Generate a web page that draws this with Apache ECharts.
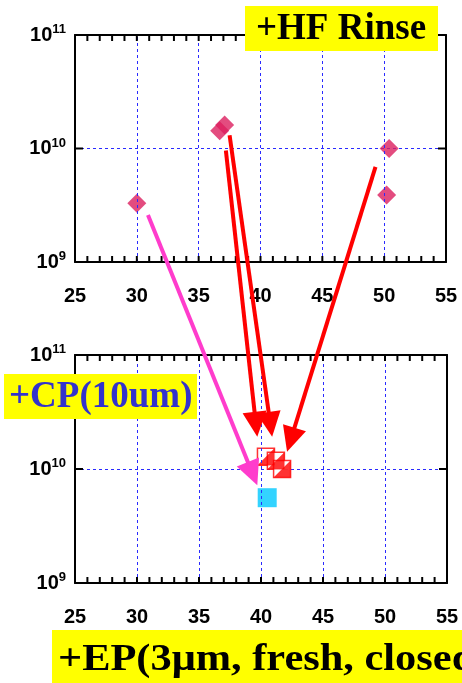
<!DOCTYPE html>
<html><head><meta charset="utf-8">
<script src="https://cdn.jsdelivr.net/npm/echarts@6/dist/echarts.min.js"></script>
<style>html,body{margin:0;padding:0;background:#fff}#c{width:462px;height:683px}</style>
</head><body><div id="c"></div>
<script>
// x axis range, labelled step and tick step
const xMin = 25, xMax = 55, xStep = 5, xTickStep = 1;
// vertical grid lines
const xGrid = [30, 35, 40, 45, 50];
// y axis (log) decades
const yMin = 1e9, yMax = 1e11;
const yMajor = [1e10];

// samples after HF rinse (upper panel)
const hfX = [30.0, 36.7, 37.1, 50.4, 50.2];
const hfY = [3.3e9, 1.43e10, 1.61e10, 1.0e10, 3.9e9];
// samples after EP (lower panel)
const epX = [40.4, 41.2, 41.7];
const epY = [1.28e10, 1.18e10, 1.0e10];
// sample after CP (lower panel)
const cpX = [40.5];
const cpY = [5.6e9];

// arrows: tail in upper panel, tip in lower panel
const arrowFromX = [30.9, 37.2, 37.5, 49.3];
const arrowFromY = [2.6e9, 9.6e9, 1.31e10, 6.9e9];
const arrowToX = [39.7, 39.7, 40.9, 42.1];
const arrowToY = [7.2e9, 1.92e10, 1.92e10, 1.42e10];
const arrowKind = ['cp', 'ep', 'ep', 'ep'];

const SANS = '"Liberation Sans", Arial, Helvetica, sans-serif';
const SERIF = '"Liberation Serif", "Times New Roman", serif';
const GRID_LINE = { color: '#2a2aff', type: [3, 3], width: 1 };

function xAxis(grid, pos) {
  const bottom = pos === 'bottom';
  return {
    type: 'value', gridIndex: grid, position: pos,
    min: xMin, max: xMax, interval: xStep,
    axisLine: { show: true, onZero: false, lineStyle: { color: '#000', width: 2 } },
    axisTick: { show: false },
    splitLine: { show: false },
    axisLabel: { show: bottom, margin: 24, fontFamily: SANS, fontWeight: 'bold', fontSize: 20, color: '#000' }
  };
}
function yAxis(grid, pos) {
  const left = pos === 'left';
  return {
    type: 'log', logBase: 10, gridIndex: grid, position: pos,
    min: yMin, max: yMax,
    axisLine: { show: true, onZero: false, lineStyle: { color: '#000', width: 2 } },
    axisTick: { show: false },
    splitLine: { show: left, lineStyle: GRID_LINE },
    axisLabel: {
      show: left, margin: 9, color: '#000',
      formatter: v => '{b|10}{s|' + Math.round(Math.log10(v)) + '}',
      rich: {
        b: { fontFamily: SANS, fontWeight: 'bold', fontSize: 20, color: '#000' },
        s: { fontFamily: SANS, fontWeight: 'bold', fontSize: 13, color: '#000', padding: [0, 0, 11, 0] }
      }
    }
  };
}
// dotted vertical grid lines drawn on the x scale of a panel
function gridLines(xi, yi) {
  return {
    type: 'scatter', xAxisIndex: xi, yAxisIndex: yi, data: [], silent: true, z: 1,
    markLine: {
      silent: true, symbol: 'none', animation: false,
      label: { show: false },
      lineStyle: GRID_LINE,
      data: xGrid.map(v => ({ xAxis: v }))
    }
  };
}

const zip = (a, b) => a.map((v, i) => [v, b[i]]);

const chart = echarts.init(document.getElementById('c'), null, { renderer: 'canvas' });
chart.setOption({
  backgroundColor: '#fff',
  animation: false,
  grid: [
    { left: 75, top: 35, width: 371, height: 227 },
    { left: 75, top: 355, width: 372, height: 228 }
  ],
  xAxis: [xAxis(0, 'bottom'), xAxis(0, 'top'), xAxis(1, 'bottom'), xAxis(1, 'top')],
  yAxis: [yAxis(0, 'left'), yAxis(0, 'right'), yAxis(1, 'left'), yAxis(1, 'right')],
  series: [
    gridLines(0, 0),
    gridLines(2, 2),
    {
      type: 'scatter', xAxisIndex: 0, yAxisIndex: 0, data: zip(hfX, hfY),
      symbol: 'diamond', symbolSize: [19, 19],
      itemStyle: { color: '#dc1f5f' }, z: 3
    },
    {
      type: 'scatter', xAxisIndex: 2, yAxisIndex: 2, data: zip(cpX, cpY),
      symbol: 'rect', symbolSize: 19,
      itemStyle: { color: '#00c8ff' }, z: 3
    },
    {
      type: 'scatter', xAxisIndex: 2, yAxisIndex: 2, data: zip(epX, epY),
      symbol: 'rect', symbolSize: 17,
      itemStyle: { color: '#fff', borderColor: '#ff0000', borderWidth: 1.5 }, z: 3
    },
    {
      type: 'scatter', xAxisIndex: 2, yAxisIndex: 2, data: zip(epX, epY),
      symbol: 'path://M10,0 L10,10 L0,10 Z', symbolSize: 17,
      itemStyle: { color: '#ff0000' }, z: 4
    }
  ]
});

// inward tick marks on all four sides of each panel
function buildTicks() {
  const els = [];
  const tick = (x1, y1, x2, y2) => els.push({
    type: 'line', z: 50,
    shape: { x1: x1, y1: y1, x2: x2, y2: y2 },
    style: { stroke: '#000', lineWidth: 2 }
  });
  for (const g of [0, 1]) {
    for (let v = xMin; v <= xMax; v += xTickStep) {
      const b = chart.convertToPixel({ gridIndex: g }, [v, yMin]);
      const t = chart.convertToPixel({ gridIndex: g }, [v, yMax]);
      const L = 6;
      tick(b[0], b[1], b[0], b[1] - L);
      tick(t[0], t[1], t[0], t[1] + L);
    }
    for (const v of yMajor) {
      const l = chart.convertToPixel({ gridIndex: g }, [xMin, v]);
      const r = chart.convertToPixel({ gridIndex: g }, [xMax, v]);
      const L = 8;
      tick(l[0], l[1], l[0] + L, l[1]);
      tick(r[0], r[1], r[0] - L, r[1]);
    }
  }
  return els;
}

// arrows from the upper panel down to the lower panel
function buildArrows() {
  const els = [];
  const colors = { cp: '#ff3ccc', ep: '#ff0000' };
  for (let i = 0; i < arrowFromX.length; i++) {
    const s = chart.convertToPixel({ gridIndex: 0 }, [arrowFromX[i], arrowFromY[i]]);
    const t = chart.convertToPixel({ gridIndex: 1 }, [arrowToX[i], arrowToY[i]]);
    const dx = t[0] - s[0], dy = t[1] - s[1];
    const len = Math.hypot(dx, dy);
    const ux = dx / len, uy = dy / len;
    const L = 25, W = 12;
    const bx = t[0] - ux * L, by = t[1] - uy * L;
    const nx = -uy, ny = ux;
    const c = colors[arrowKind[i]];
    els.push({
      type: 'line', z: 100,
      shape: { x1: s[0], y1: s[1], x2: bx + ux * 2, y2: by + uy * 2 },
      style: { stroke: c, lineWidth: 4 }
    });
    els.push({
      type: 'polygon', z: 100,
      shape: { points: [[t[0], t[1]], [bx + nx * W, by + ny * W], [bx - nx * W, by - ny * W]] },
      style: { fill: c }
    });
  }
  return els;
}

const labels = [
  { type: 'rect', z: 110, shape: { x: 245, y: 6, width: 193, height: 45 }, style: { fill: '#ffff00' } },
  { type: 'text', z: 111, x: 256, y: 29, style: { text: '+HF Rinse', fill: '#000', font: 'bold 37px ' + SERIF, textVerticalAlign: 'middle' } },
  { type: 'rect', z: 110, shape: { x: 4, y: 374, width: 193, height: 45 }, style: { fill: '#ffff00' } },
  { type: 'text', z: 111, x: 9, y: 397, style: { text: '+CP(10um)', fill: '#3333cc', font: 'bold 37px ' + SERIF, textVerticalAlign: 'middle' } },
  { type: 'rect', z: 110, shape: { x: 52, y: 630, width: 420, height: 54 }, style: { fill: '#ffff00' } },
  { type: 'text', z: 111, x: 58, y: 660, scaleX: 1.146, style: { text: '+EP(3\u03bcm, fresh, closed)', fill: '#000', font: 'bold 37px ' + SERIF, textVerticalAlign: 'middle' } }
];

chart.setOption({ graphic: buildTicks().concat(buildArrows(), labels) });
</script>
</body></html>
